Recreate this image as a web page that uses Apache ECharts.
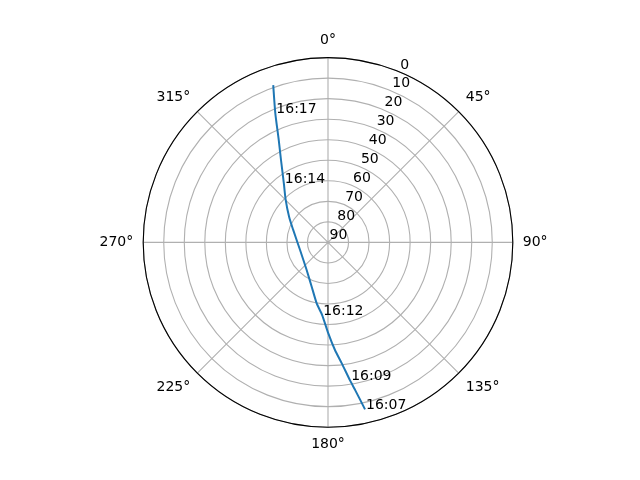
<!DOCTYPE html>
<html lang="en">
<head>
<meta charset="UTF-8">
<title>sky plot</title>
<script src="https://cdn.jsdelivr.net/npm/echarts@6/dist/echarts.min.js"></script>
</head>
<body style="margin:0;background:#fff">
<div id="sky" style="width:640px;height:480px;"></div>
<script>
// pass track (azimuth deg clockwise from N, elevation deg)
var azimuth   = [167.5, 169.6, 170.9, 173.5, 176.3, 179.8, 184.6, 190.5, 200.2, 217.7, 254.8, 289.7, 303.4, 315.1, 323.2, 330.3, 334.3, 337.8, 340.8];
var elevation = [6.7,   17.0,  21.8,  30.7,  37.5,  45.7,  54.5,  59.8,  67.0,  73.0,  75.9,  72.0,  67.3,  60.8,  54.1,  43.8,  34.7,  22.1,  8.9];
var times     = ['16:07', '', '16:09', '', '', '', '16:12', '', '', '', '', '', '', '', '16:14', '', '', '16:17', ''];

var track = [];
var marks = [];
for (var i = 0; i < azimuth.length; i++) {
    track.push([elevation[i], azimuth[i]]);
    if (times[i] !== '') {
        marks.push({value: [elevation[i], azimuth[i]], name: times[i]});
    }
}

var font = 'DejaVu Sans';
var chart = echarts.init(document.getElementById('sky'));

chart.setOption({
    animation: false,
    polar: [
        {center: [328, 242.4], radius: 184.8},
        {center: [329.5, 242.6], radius: 184.8}   // only carries the radius labels at 22.5°
    ],
    angleAxis: [
        {
            polarIndex: 0,
            type: 'value', min: 0, max: 360, interval: 45,
            startAngle: 90, clockwise: true,
            axisLine: {lineStyle: {color: '#000', width: 1.1}},
            axisTick: {show: false},
            axisLabel: {
                margin: 10, color: '#000', fontFamily: font, fontSize: 14,
                formatter: function (v) { return v === 360 ? '' : v + '°'; }
            },
            splitLine: {lineStyle: {color: '#b0b0b0', width: 1.1}}
        },
        {
            polarIndex: 1,
            type: 'value', min: 0, max: 360, startAngle: 67.5, clockwise: true,
            show: false
        }
    ],
    radiusAxis: [
        {
            polarIndex: 0,
            type: 'value', min: 0, max: 90, interval: 10, inverse: true,
            axisLine: {show: false},
            axisTick: {show: false},
            axisLabel: {show: false},
            splitLine: {lineStyle: {color: '#b0b0b0', width: 1.1}}
        },
        {
            polarIndex: 1,
            type: 'value', min: 0, max: 90, interval: 10, inverse: true,
            axisLine: {show: false},
            axisTick: {show: false},
            splitLine: {show: false},
            axisLabel: {
                margin: 0, align: 'left', verticalAlign: 'bottom',
                color: '#000', fontFamily: font, fontSize: 14
            }
        }
    ],
    series: [
        {
            type: 'line',
            coordinateSystem: 'polar',
            polarIndex: 0,
            data: track,
            smooth: 0.2,
            showSymbol: false,
            lineStyle: {color: '#1f77b4', width: 2}
        },
        {
            type: 'scatter',
            coordinateSystem: 'polar',
            polarIndex: 0,
            data: marks,
            symbolSize: 0,
            itemStyle: {opacity: 1},
            label: {
                show: true, position: [0, 0], align: 'left', verticalAlign: 'bottom',
                offset: [1, 3],
                formatter: '{b}', color: '#000', fontFamily: font, fontSize: 14
            }
        }
    ]
});
</script>
</body>
</html>
